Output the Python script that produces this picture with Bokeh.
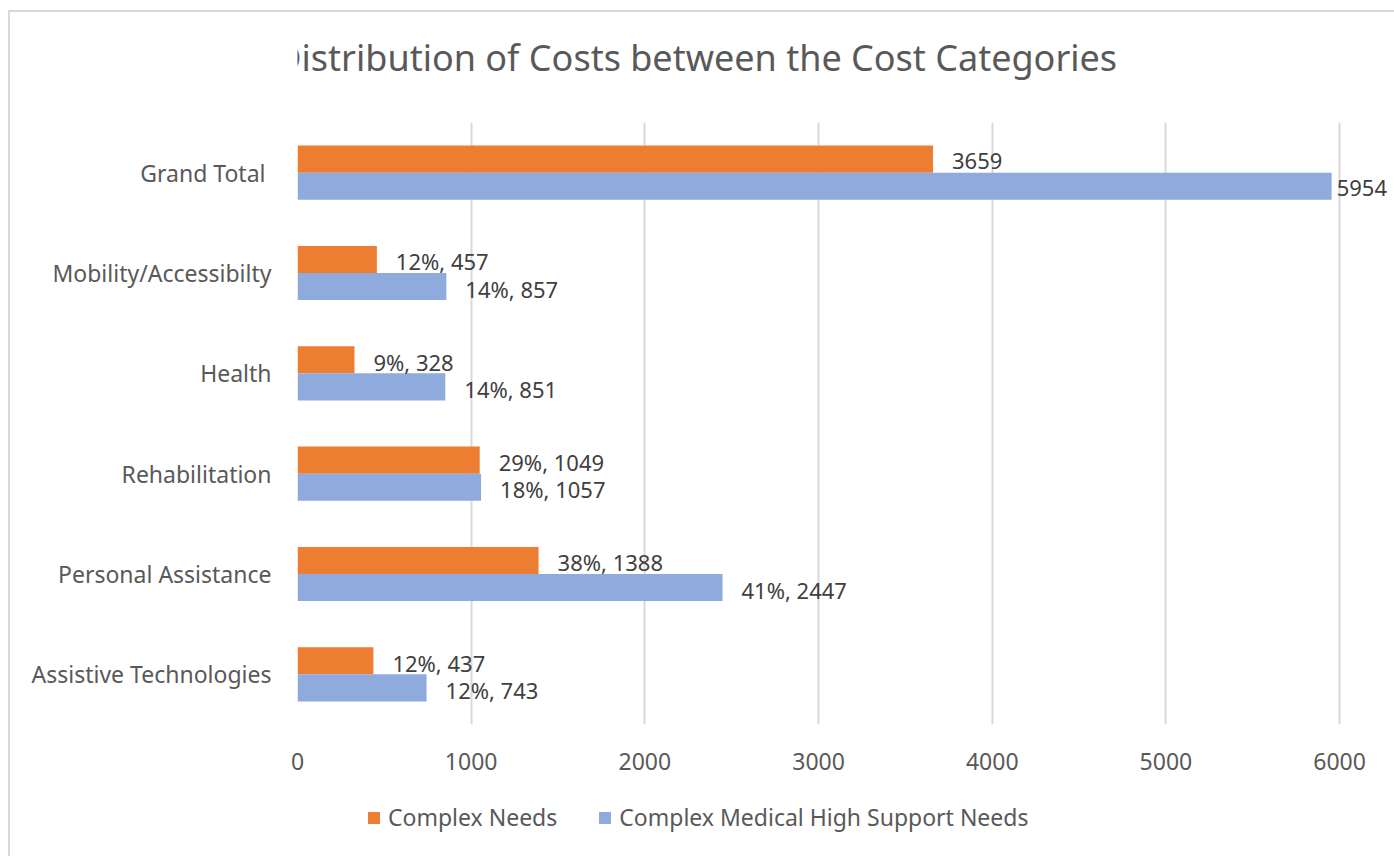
from bokeh.plotting import figure
from bokeh.layouts import column
from bokeh.models import (ColumnDataSource, FixedTicker, Legend, LegendItem, Range1d,
                          FactorRange, Label)
from bokeh.transform import dodge
from bokeh.core.properties import value
from bokeh.embed import file_html
from bokeh.resources import INLINE

categories = ["Assistive Technologies", "Personal Assistance", "Rehabilitation",
              "Health", "Mobility/Accessibilty", "Grand Total "]
complex_needs = [437, 1388, 1049, 328, 457, 3659]
complex_needs_pct = ["12%", "38%", "29%", "9%", "12%", None]
medical_high = [743, 2447, 1057, 851, 857, 5954]
medical_high_pct = ["12%", "41%", "18%", "14%", "14%", None]
x_ticks = [0, 1000, 2000, 3000, 4000, 5000, 6000]
series_names = ["Complex Needs", "Complex Medical High Support Needs"]
title_text = "Distribution of Costs  between the Cost Categories"

ORANGE = "#ED7D31"
BLUE = "#8FAADC"
FONT = "Noto Sans"
W = 1384
H_TITLE = 110
H_MAIN = 668
H_LEG = 66


def make_labels(vals, pcts):
    return [f"{p}, {v}" if p else f"{v}" for v, p in zip(vals, pcts)]


def strip(height):
    f = figure(width=W, height=height, output_backend="svg", toolbar_location=None,
               x_range=Range1d(0, W), y_range=Range1d(0, height),
               x_axis_location=None, y_axis_location=None,
               min_border_left=0, min_border_right=0, min_border_top=0, min_border_bottom=0)
    f.grid.visible = False
    f.outline_line_color = None
    f.background_fill_color = "white"
    f.border_fill_color = "white"
    return f


vmax = max(max(complex_needs), max(medical_high))
src = ColumnDataSource(dict(
    cat=categories,
    cn=complex_needs,
    mh=medical_high,
    cn_lab=make_labels(complex_needs, complex_needs_pct),
    mh_lab=make_labels(medical_high, medical_high_pct),
    cn_off=[5 if v == vmax else 19 for v in complex_needs],
    mh_off=[5 if v == vmax else 19 for v in medical_high],
))

# title strip
tf = strip(H_TITLE)
tf.add_layout(Label(x=-28, y=65, text=title_text, text_font=FONT, text_font_size="36px",
                    text_color="#595959", text_align="left", text_baseline="middle"))

# main chart
p = figure(width=W, height=H_MAIN, output_backend="svg", toolbar_location=None,
           y_range=FactorRange(*categories, range_padding=0, factor_padding=0),
           x_range=Range1d(0, 6316),
           min_border_left=287, min_border_right=0, min_border_top=0, min_border_bottom=66)
p.outline_line_color = None
p.background_fill_color = "white"
p.border_fill_color = "white"

bh = 0.27
r1 = p.hbar(y=dodge("cat", bh / 2, range=p.y_range), left=0, right="cn", height=bh,
            source=src, fill_color=ORANGE, line_color=None)
r2 = p.hbar(y=dodge("cat", -bh / 2, range=p.y_range), left=0, right="mh", height=bh,
            source=src, fill_color=BLUE, line_color=None)

p.text(x="cn", y=dodge("cat", bh / 2, range=p.y_range), text="cn_lab", source=src,
       x_offset="cn_off", y_offset=2, text_baseline="middle", text_align="left",
       text_font=value(FONT), text_font_size="22px", text_color="#404040")
p.text(x="mh", y=dodge("cat", -bh / 2, range=p.y_range), text="mh_lab", source=src,
       x_offset="mh_off", y_offset=2, text_baseline="middle", text_align="left",
       text_font=value(FONT), text_font_size="22px", text_color="#404040")

p.xaxis.ticker = FixedTicker(ticks=x_ticks)
p.xaxis.axis_line_color = None
p.xaxis.major_tick_line_color = None
p.xaxis.minor_tick_line_color = None
p.xaxis.major_label_standoff = 22
p.xaxis.major_label_text_font = FONT
p.xaxis.major_label_text_font_size = "23px"
p.xaxis.major_label_text_color = "#595959"

p.yaxis.axis_line_color = None
p.yaxis.major_tick_line_color = None
p.yaxis.major_tick_out = 0
p.yaxis.major_label_standoff = 26
p.yaxis.major_label_text_font = FONT
p.yaxis.major_label_text_font_size = "23px"
p.yaxis.major_label_text_color = "#595959"

p.xgrid.ticker = FixedTicker(ticks=x_ticks)
p.xgrid.grid_line_color = "#D9D9D9"
p.xgrid.grid_line_width = 2
p.ygrid.grid_line_color = None

# legend strip below the chart (its own canvas so nothing is clipped)
lf = strip(H_LEG)
lr1 = lf.hbar(y=-10, left=0, right="cn", height=bh, source=src, fill_color=ORANGE, line_color=None)
lr2 = lf.hbar(y=-10, left=0, right="mh", height=bh, source=src, fill_color=BLUE, line_color=None)

legend = Legend(items=[LegendItem(label=series_names[0], renderers=[lr1]),
                       LegendItem(label=series_names[1], renderers=[lr2])],
                orientation="horizontal", location=(69, 23))
legend.label_text_font = FONT
legend.label_text_font_size = "23px"
legend.label_text_color = "#595959"
legend.glyph_width = 15
legend.glyph_height = 15
legend.label_standoff = 7
legend.spacing = 40
legend.border_line_color = None
legend.background_fill_alpha = 0
legend.margin = 0
legend.padding = 10
lf.add_layout(legend)

layout = column(tf, p, lf, spacing=0)
layout.styles = {"margin-left": "8px", "margin-top": "10px",
                 "border-left": "2px solid #d9d9d9", "border-top": "2px solid #d9d9d9"}
open("out.html", "w").write(file_html(layout, INLINE))
